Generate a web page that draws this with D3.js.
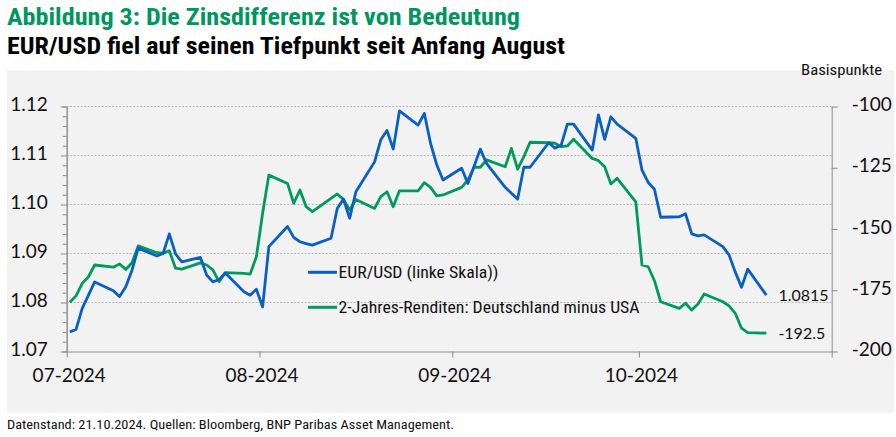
<!DOCTYPE html>
<html>
<head>
<meta charset="utf-8">
<script src="https://cdn.jsdelivr.net/npm/d3@7"></script>
<style>
  html, body { margin: 0; padding: 0; background: #ffffff; }
  svg { display: block; }
</style>
</head>
<body>
<svg id="chart" width="896" height="437"></svg>
<script>
// ---------------- DATA ----------------
const dates = [
  "2024-07-01","2024-07-02","2024-07-03","2024-07-04","2024-07-05",
  "2024-07-08","2024-07-09","2024-07-10","2024-07-11","2024-07-12",
  "2024-07-15","2024-07-16","2024-07-17","2024-07-18","2024-07-19",
  "2024-07-22","2024-07-23","2024-07-24","2024-07-25","2024-07-26",
  "2024-07-29","2024-07-30","2024-07-31",
  "2024-08-01","2024-08-02",
  "2024-08-05","2024-08-06","2024-08-07","2024-08-08","2024-08-09",
  "2024-08-12","2024-08-13","2024-08-14","2024-08-15","2024-08-16",
  "2024-08-19","2024-08-20","2024-08-21","2024-08-22","2024-08-23",
  "2024-08-26","2024-08-27","2024-08-28","2024-08-29","2024-08-30",
  "2024-09-02","2024-09-03","2024-09-04","2024-09-05","2024-09-06",
  "2024-09-09","2024-09-10","2024-09-11","2024-09-12","2024-09-13",
  "2024-09-16","2024-09-17","2024-09-18","2024-09-19","2024-09-20",
  "2024-09-23","2024-09-24","2024-09-25","2024-09-26","2024-09-27",
  "2024-09-30",
  "2024-10-01","2024-10-02","2024-10-03","2024-10-04",
  "2024-10-07","2024-10-08","2024-10-09","2024-10-10","2024-10-11",
  "2024-10-14","2024-10-15","2024-10-16","2024-10-17","2024-10-18",
  "2024-10-21"
];

// EUR/USD (left axis)
const eurusd = [
  1.0740,1.0745,1.0788,1.0815,1.0842,
  1.0824,1.0812,1.0832,1.0866,1.0911,
  1.0895,1.0900,1.0940,1.0899,1.0883,
  1.0892,1.0856,1.0842,1.0847,1.0860,
  1.0822,1.0815,1.0827,
  1.0791,1.0914,
  1.0955,1.0933,1.0924,1.0920,1.0917,
  1.0931,1.0992,1.1011,1.0972,1.1026,
  1.1087,1.1132,1.1151,1.1113,1.1191,
  1.1162,1.1186,1.1125,1.1081,1.1050,
  1.1074,1.1043,1.1078,1.1113,1.1084,
  1.1035,1.1023,1.1011,1.1076,1.1076,
  1.1126,1.1115,1.1121,1.1164,1.1164,
  1.1111,1.1183,1.1133,1.1179,1.1164,
  1.1135,
  1.1070,1.1045,1.1031,1.0974,
  1.0975,1.0981,1.0940,1.0936,1.0938,
  1.0914,1.0897,1.0862,1.0831,1.0868,
  1.0815
];

// 2-year yield spread Germany minus USA, basis points (right axis)
const spread = [
  -179.9,-177.3,-172.2,-169.5,-164.7,
  -165.6,-164.3,-166.5,-163.8,-156.9,
  -159.7,-159.9,-158.9,-166.0,-166.4,
  -163.8,-164.7,-166.7,-171.5,-167.8,
  -168.1,-168.4,-161.3,
  -143.6,-128.0,
  -131.4,-139.5,-134.1,-140.9,-142.9,
  -137.5,-135.7,-137.9,-142.2,-138.0,
  -141.6,-136.8,-134.8,-140.9,-134.4,
  -134.4,-131.1,-133.0,-136.5,-136.1,
  -133.0,-130.0,-124.8,-124.8,-121.8,
  -124.6,-117.1,-125.6,-120.5,-114.6,
  -114.8,-115.0,-116.4,-116.1,-113.4,
  -121.2,-122.1,-124.6,-131.6,-129.3,
  -138.9,
  -164.7,-165.4,-171.1,-179.7,
  -182.4,-180.3,-183.1,-180.6,-176.5,
  -179.7,-181.4,-184.4,-190.5,-192.3,
  -192.5
];

const leftTicks = [1.07, 1.08, 1.09, 1.10, 1.11, 1.12];
const rightTicks = [-200, -175, -150, -125, -100];
const monthTicks = ["2024-07-01","2024-08-01","2024-09-01","2024-10-01","2024-11-01"];
const monthLabels = ["07-2024","08-2024","09-2024","10-2024"];
const seriesNames = ["EUR/USD (linke Skala))", "2-Jahres-Renditen: Deutschland minus USA"];
const endLabels = ["1.0815", "-192.5"];

const titleText = "Abbildung 3: Die Zinsdifferenz ist von Bedeutung";
const subtitleText = "EUR/USD fiel auf seinen Tiefpunkt seit Anfang August";
const unitText = "Basispunkte";
const footerText = "Datenstand: 21.10.2024. Quellen: Bloomberg, BNP Paribas Asset Management.";

// ---------------- LAYOUT ----------------
const BLUE = "#0a5fc2";
const GREEN = "#009a5c";
const AXIS = "#8c8c8c";
const condensed = "'Roboto Condensed','Liberation Sans Narrow','DejaVu Sans Condensed',Roboto,'Liberation Sans',sans-serif";
const tickFont = "Lato,'Noto Sans','Liberation Sans',sans-serif";

const plot = { left: 66.7, right: 831.7, top: 106.5, bottom: 351.5 };

const svg = d3.select("#chart");
const parse = d3.timeParse("%Y-%m-%d");
const atNoon = s => d3.timeHour.offset(parse(s), 12);

// panel
svg.append("rect").attr("x", 7).attr("y", 70.5).attr("width", 887).attr("height", 342)
  .attr("fill", "#f2f2f2");

// titles
svg.append("text").attr("x", 7).attr("y", 25)
  .attr("font-family", condensed).attr("font-weight", "bold").attr("font-size", 23)
  .attr("fill", "#00965e").attr("textLength", 513).attr("lengthAdjust", "spacingAndGlyphs")
  .text(titleText);
svg.append("text").attr("x", 7).attr("y", 53.5)
  .attr("font-family", condensed).attr("font-weight", "bold").attr("font-size", 23)
  .attr("fill", "#000").attr("textLength", 558).attr("lengthAdjust", "spacingAndGlyphs")
  .text(subtitleText);
svg.append("text").attr("x", 882).attr("y", 75).attr("text-anchor", "end")
  .attr("font-family", condensed).attr("font-size", 15.5).attr("fill", "#111")
  .attr("textLength", 81).attr("lengthAdjust", "spacingAndGlyphs")
  .text(unitText);
svg.append("text").attr("x", 7).attr("y", 429)
  .attr("font-family", condensed).attr("font-size", 13.5).attr("fill", "#111")
  .attr("textLength", 447).attr("lengthAdjust", "spacingAndGlyphs")
  .text(footerText);

// scales
const x = d3.scaleTime()
  .domain([parse(monthTicks[0]), parse(monthTicks[monthTicks.length - 1])])
  .range([plot.left, plot.right]);
const yL = d3.scaleLinear().domain([1.07, 1.12]).range([plot.bottom, plot.top]);
const yR = d3.scaleLinear().domain([-200, -100]).range([plot.bottom, plot.top]);

// gridlines (left axis major ticks)
svg.append("g").selectAll("line").data(leftTicks.filter(v => v > 1.07)).join("line")
  .attr("x1", plot.left).attr("x2", plot.right)
  .attr("y1", d => yL(d)).attr("y2", d => yL(d))
  .attr("stroke", "#a6a6a6").attr("stroke-width", 0.8).attr("stroke-dasharray", "2,1.5");

// left axis with minor ticks
const minorTicks = d3.range(1.07, 1.1201, 0.002);
const gLeft = svg.append("g").attr("transform", `translate(${plot.left},0)`);
gLeft.call(d3.axisLeft(yL).tickValues(minorTicks).tickSize(4).tickFormat(""));
gLeft.call(g => g.selectAll(".tick").filter(d => leftTicks.some(t => Math.abs(t - d) < 1e-6)).remove());
const gLeftMajor = svg.append("g").attr("transform", `translate(${plot.left},0)`)
  .call(d3.axisLeft(yL).tickValues(leftTicks).tickSize(6).tickPadding(13)
    .tickFormat(d3.format(".2f")).tickSizeOuter(0));
[gLeft, gLeftMajor].forEach(g => {
  g.selectAll("path,line").attr("stroke", AXIS);
});
gLeftMajor.selectAll("text").attr("font-family", tickFont).attr("font-size", 19)
  .attr("fill", "#111").attr("dy", "0.22em");

// right axis (plain hyphen-minus as in the original)
const gRight = svg.append("g").attr("transform", `translate(${plot.right},0)`)
  .call(d3.axisRight(yR).tickValues(rightTicks).tickSize(6).tickPadding(14).tickSizeOuter(0)
    .tickFormat(d => String(d)));
gRight.selectAll("path,line").attr("stroke", AXIS);
gRight.selectAll("text").attr("font-family", tickFont).attr("font-size", 19)
  .attr("fill", "#111").attr("dy", "0.22em");

// x axis
const gX = svg.append("g").attr("transform", `translate(0,${plot.bottom})`)
  .call(d3.axisBottom(x).tickValues(monthTicks.map(parse)).tickSize(6).tickPadding(11)
    .tickFormat((d, i) => monthLabels[i] || "").tickSizeOuter(0));
gX.selectAll("path,line").attr("stroke", AXIS);
gX.selectAll("text").attr("font-family", tickFont).attr("font-size", 19)
  .attr("fill", "#111").attr("dx", "2");

// lines
const rows = dates.map((d, i) => ({ date: atNoon(d), eur: eurusd[i], spr: spread[i] }));
const lineEur = d3.line().x(d => x(d.date)).y(d => yL(d.eur));
const lineSpr = d3.line().x(d => x(d.date)).y(d => yR(d.spr));

svg.append("path").datum(rows).attr("d", lineSpr)
  .attr("fill", "none").attr("stroke", GREEN).attr("stroke-width", 2.8)
  .attr("stroke-linejoin", "round");
svg.append("path").datum(rows).attr("d", lineEur)
  .attr("fill", "none").attr("stroke", BLUE).attr("stroke-width", 2.8)
  .attr("stroke-linejoin", "round");

// end labels
const last = rows[rows.length - 1];
svg.append("text").attr("x", x(last.date) + 12).attr("y", yL(last.eur) + 5.5)
  .attr("font-family", tickFont).attr("font-size", 16).attr("fill", "#111")
  .text(endLabels[0]);
svg.append("text").attr("x", x(last.date) + 12).attr("y", yR(last.spr) + 5.5)
  .attr("font-family", tickFont).attr("font-size", 16).attr("fill", "#111")
  .text(endLabels[1]);

// legend
const legend = svg.append("g");
const legendItems = [
  { name: seriesNames[0], color: BLUE, y: 272.3, len: 160 },
  { name: seriesNames[1], color: GREEN, y: 307.3, len: 301 }
];
legendItems.forEach(it => {
  legend.append("line").attr("x1", 308).attr("x2", 337).attr("y1", it.y).attr("y2", it.y)
    .attr("stroke", it.color).attr("stroke-width", 3);
  legend.append("text").attr("x", 338.5).attr("y", it.y + 5.5)
    .attr("font-family", condensed).attr("font-size", 16).attr("fill", "#111")
    .attr("textLength", it.len).attr("lengthAdjust", "spacingAndGlyphs")
    .text(it.name);
});
</script>
</body>
</html>
